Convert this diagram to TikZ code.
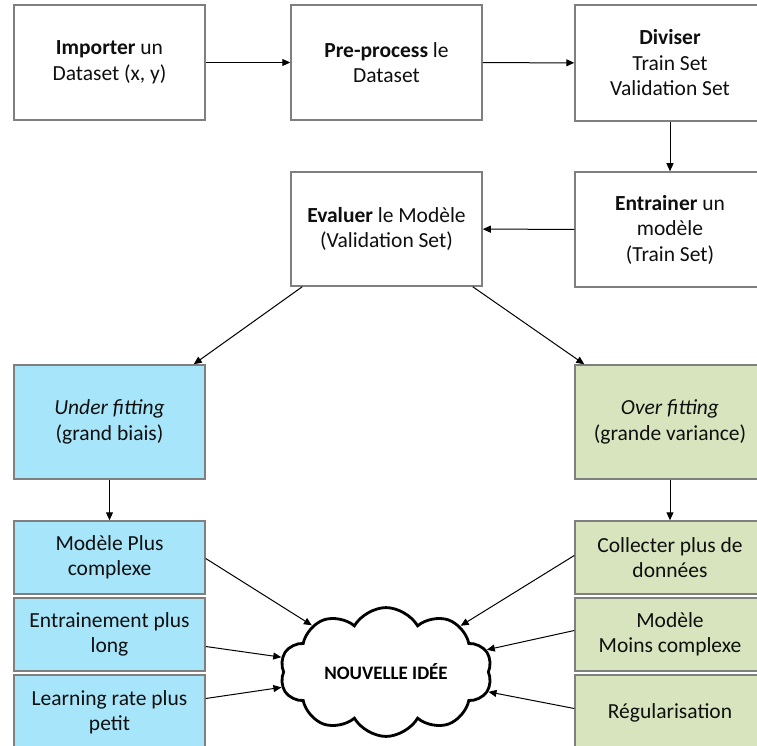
\documentclass[tikz,border=0pt]{standalone}
\usepackage{fontspec}
\setmainfont{Carlito}
\usetikzlibrary{shapes.symbols,arrows.meta}
\definecolor{boxgray}{RGB}{127,127,127}
\definecolor{ufill}{RGB}{167,230,250}
\definecolor{ofill}{RGB}{215,228,189}
\definecolor{txt}{RGB}{15,15,15}
\tikzset{
  box/.style={draw=boxgray, line width=1.5pt, rectangle, align=center, inner sep=2pt,
    text=txt, font=\fontsize{21.5}{25.5}\selectfont},
  wbox/.style={box, fill=white, minimum width=191pt, minimum height=115pt},
  ubox/.style={box, fill=ufill, minimum width=191pt},
  obox/.style={box, fill=ofill, minimum width=190pt},
  conn/.style={draw=black, line width=1pt, -{Triangle[length=8pt,width=7pt]}},
}
\begin{document}
\begin{tikzpicture}[x=1pt,y=-1pt]
\useasboundingbox (0,0) rectangle (757,746);
\fill[white] (0,0) rectangle (757,746);
\begin{scope}
\clip (0,0) rectangle (757,746);
\node[wbox] (imp) at (109.5,62.5) {\textbf{Importer} un\\Dataset (x, y)};
\node[wbox] (pre) at (386.5,62.5) {\textbf{Pre-process} le\\Dataset};
\node[wbox, minimum width=190pt, minimum height=116pt] (div) at (670,63) {\textbf{Diviser}\\Train Set\\Validation Set};
\node[wbox, minimum width=190pt] (ent) at (670,229.5) {\textbf{Entrainer} un\\modèle\\(Train Set)};
\node[wbox, minimum height=114pt] (eva) at (386.5,229) {\textbf{Evaluer} le Modèle\\(Validation Set)};
\node[ubox, minimum height=114pt] (und) at (109.5,422) {\textit{Under fitting}\\(grand biais)};
\node[obox, minimum height=114pt] (ovr) at (670,422) {\textit{Over fitting}\\(grande variance)};
\node[ubox, minimum height=73pt] (mp) at (109.5,557.5) {Modèle Plus\\complexe};
\node[ubox, minimum height=73pt] (el) at (109.5,634.5) {Entrainement plus\\long};
\node[ubox, minimum height=75pt] (lr) at (109.5,712.5) {Learning rate plus\\petit};
\node[obox, minimum height=73pt] (col) at (670,557.5) {Collecter plus de\\données};
\node[obox, minimum height=73pt] (mc) at (670,634.5) {Modèle\\Moins complexe};
\node[obox, minimum height=75pt] (reg) at (670,712.5) {Régularisation};
\node[cloud, draw=black, fill=white, line width=2.8pt, cloud puffs=10, cloud puff arc=120, aspect=1.7,
  minimum width=212pt, minimum height=127pt, inner sep=0pt, text=black,
  font=\fontsize{19}{22}\selectfont\bfseries] (cl) at (386,672) {NOUVELLE IDÉE};

\draw[conn] (imp) -- (pre);
\draw[conn] (pre) -- (div);
\draw[conn] (div) -- (ent);
\draw[conn] (ent) -- (eva);
\draw[conn] ([xshift=12pt]eva.south west) -- ([xshift=-12pt]und.north east);
\draw[conn] ([xshift=-10pt]eva.south east) -- ([xshift=10pt]ovr.north west);
\draw[conn] (und) -- (mp);
\draw[conn] (ovr) -- (col);
\draw[conn] ([yshift=-1pt]mp.east) -- (cl);
\draw[conn] ([yshift=-12pt]el.east) -- (cl);
\draw[conn] ([yshift=14pt]lr.east) -- (cl);
\draw[conn] ([yshift=2pt]col.west) -- (cl);
\draw[conn] ([yshift=4pt]mc.west) -- (cl);
\draw[conn] ([yshift=4pt]reg.west) -- (cl);
\end{scope}
\end{tikzpicture}
\end{document}
